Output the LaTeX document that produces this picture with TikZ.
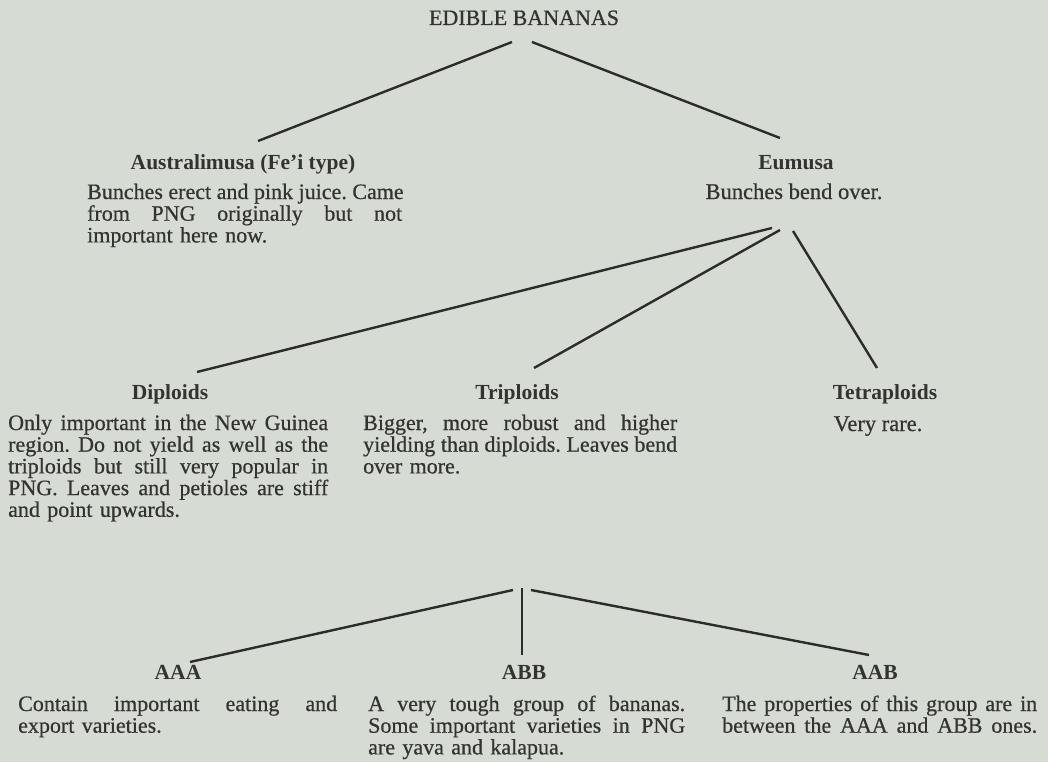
\documentclass[tikz,border=0pt]{standalone}
\usepackage{fontspec}
\setmainfont{Liberation Serif}
\newfontfamily\bodyfont{Liberation Serif}[FakeBold=0.6]
\definecolor{paper}{HTML}{D6DCD4}
\definecolor{ink}{HTML}{333331}
\definecolor{lineink}{HTML}{2C2C2A}
\newcommand{\jl}[1]{\leavevmode\hbox to \hsize{\spaceskip=.25em plus 1fil\relax\xspaceskip=.25em plus 1fil\relax #1}}
\tikzset{
  ttl/.style={font=\fontsize{21.5}{22}\selectfont\bfseries, text=ink, inner sep=0pt, anchor=base},
  bodytxt/.style={font=\bodyfont\fontsize{22}{21.7}\selectfont\frenchspacing, text=ink, inner sep=0pt, align=left, anchor=base west},
  single/.style={font=\bodyfont\fontsize{22.5}{21.7}\selectfont, text=ink, inner sep=0pt, anchor=base},
  branch/.style={draw=lineink, line width=2.4pt}
}
\begin{document}
\begin{tikzpicture}[x=1pt,y=-1pt]
\fill[paper] (0,0) rectangle (1048,762);
\useasboundingbox (0,0) rectangle (1048,762);

% top
\node[font=\bodyfont\fontsize{22}{24}\selectfont, text=ink, inner sep=0pt, anchor=base] (edible) at (524,25) {EDIBLE BANANAS};

% second level
\node[ttl] (austT) at (243,170) {Australimusa (Fe'i type)};
\node[bodytxt, text width=315pt] (austB) at (87,199) {\jl{Bunches erect and pink juice. Came}\\ \jl{from PNG originally but not}\\ important here now.};
\node[ttl] (eumT) at (796,169) {Eumusa};
\node[single] (eumB) at (794,199) {Bunches bend over.};

% third level
\node[ttl] (dipT) at (170,399) {Diploids};
\node[bodytxt, text width=320pt] (dipB) at (8,430) {\jl{Only important in the New Guinea}\\ \jl{region. Do not yield as well as the}\\ \jl{triploids but still very popular in}\\ \jl{PNG. Leaves and petioles are stiff}\\ and point upwards.};
\node[ttl] (triT) at (517,399) {Triploids};
\node[bodytxt, text width=314pt] (triB) at (363,430) {\jl{Bigger, more robust and higher}\\ \jl{yielding than diploids. Leaves bend}\\ over more.};
\node[ttl] (tetT) at (885,399) {Tetraploids};
\node[single] (tetB) at (878,431) {Very rare.};

% fourth level
\node[ttl] (aaaT) at (178,679) {AAA};
\node[bodytxt, text width=319pt] (aaaB) at (18,711) {\jl{Contain important eating and}\\ export varieties.};
\node[ttl] (abbT) at (524,679) {ABB};
\node[bodytxt, text width=317pt] (abbB) at (368,711) {\jl{A very tough group of bananas.}\\ \jl{Some important varieties in PNG}\\ are yava and kalapua.};
\node[ttl] (aabT) at (875,679) {AAB};
\node[bodytxt, text width=315pt] (aabB) at (722,711) {\jl{The properties of this group are in}\\ \jl{between the AAA and ABB ones.}};

% connector ends
\coordinate (e1) at (512,42);  \coordinate (a1) at (258,141);
\coordinate (e2) at (532,42);  \coordinate (u1) at (780,138);
\coordinate (u2) at (772,228); \coordinate (d1) at (197,372);
\coordinate (u3) at (780,230); \coordinate (t1) at (534,368);
\coordinate (u4) at (793,231); \coordinate (q1) at (877,368);
\coordinate (t2) at (513,590); \coordinate (x1) at (190,662);
\coordinate (t3) at (522,588); \coordinate (x2) at (522,655);
\coordinate (t4) at (531,590); \coordinate (x3) at (869,655);

\draw[branch] (e1) -- (a1);
\draw[branch] (e2) -- (u1);
\draw[branch] (u2) -- (d1);
\draw[branch] (u3) -- (t1);
\draw[branch] (u4) -- (q1);
\draw[branch] (t2) -- (x1);
\draw[branch] (t3) -- (x2);
\draw[branch] (t4) -- (x3);
\end{tikzpicture}
\end{document}
